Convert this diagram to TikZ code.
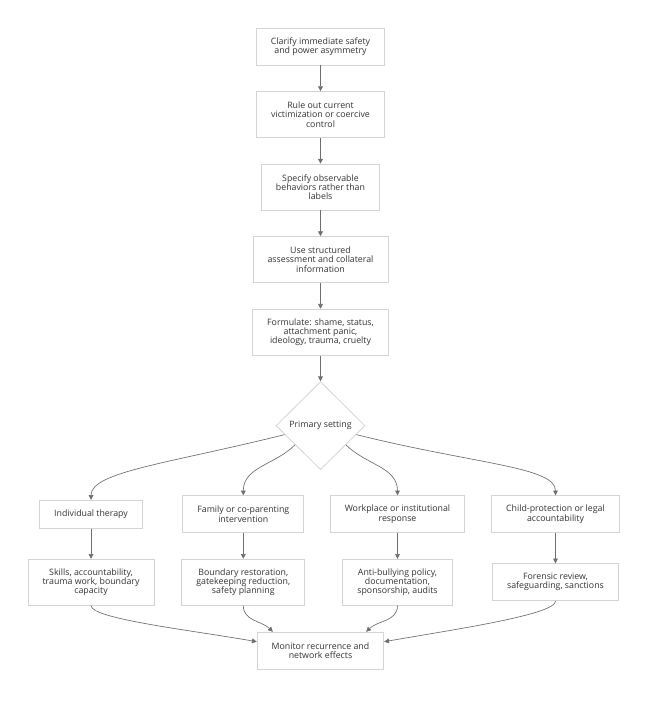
\documentclass[tikz,border=0pt]{standalone}
\usepackage{fontspec}
\setmainfont{Open Sans}
\usetikzlibrary{arrows.meta,positioning,shapes.geometric}
\definecolor{boxLine}{HTML}{D4D4D4}
\definecolor{edgeLine}{HTML}{6E6E6E}
\definecolor{labelText}{HTML}{333333}
\tikzset{
    stepBox/.style={
        draw=boxLine,
        line width=0.6pt,
        fill=white,
        align=center,
        inner xsep=10.9pt,
        inner ysep=6.85pt,
        minimum height=27.75pt,
        text=labelText,
        font=\fontsize{6.6}{6.9}\selectfont
    },
    tallBox/.style={
        stepBox,
        minimum height=34.5pt
    },
    settingDiamond/.style={
        diamond,
        draw=boxLine,
        line width=0.6pt,
        fill=white,
        inner sep=0pt,
        minimum width=66.75pt,
        minimum height=66pt,
        text=labelText,
        font=\fontsize{6.6}{6.9}\selectfont
    },
    flowArrow/.style={
        -{Triangle[length=3.6pt,width=3.6pt]},
        draw=edgeLine,
        line width=0.5pt
    }
}

\begin{document}
\begin{tikzpicture}[node distance=19.3pt]
    \useasboundingbox (-240.375pt,34.875pt) rectangle (245.625pt,-497.625pt);

    \node[stepBox] (clar) at (0,0) {Clarify immediate safety\\and power asymmetry};
    \node[tallBox,below=of clar] (rule) {Rule out current\\victimization or coercive\\control};
    \node[tallBox,below=of rule] (spec) {Specify observable\\behaviors rather than\\labels};
    \node[tallBox,below=of spec] (use) {Use structured\\assessment and collateral\\information};
    \node[tallBox,below=of use] (form) {Formulate: shame, status,\\attachment panic,\\ideology, trauma, cruelty};
    \node[settingDiamond,below=of form] (dia) {Primary setting};

    \node[stepBox,minimum height=21pt,below left=66.4pt and 172.1pt of dia.center,anchor=center] (ind) {Individual therapy};
    \node[stepBox,below left=66.4pt and 57.9pt of dia.center,anchor=center] (fam) {Family or co-parenting\\intervention};
    \node[stepBox,below right=66.4pt and 57.75pt of dia.center,anchor=center] (work) {Workplace or institutional\\response};
    \node[stepBox,below right=66.4pt and 176.25pt of dia.center,anchor=center] (child) {Child-protection or legal\\accountability};

    \node[tallBox,below=51pt of ind.center,anchor=center] (ski) {Skills, accountability,\\trauma work, boundary\\capacity};
    \node[tallBox,below=51pt of fam.center,anchor=center] (bou) {Boundary restoration,\\gatekeeping reduction,\\safety planning};
    \node[tallBox,below=51pt of work.center,anchor=center] (anti) {Anti-bullying policy,\\documentation,\\sponsorship, audits};
    \node[stepBox,below=51pt of child.center,anchor=center] (forn) {Forensic review,\\safeguarding, sanctions};

    \node[stepBox,below=168.75pt of dia.center,anchor=center] (mon) {Monitor recurrence and\\network effects};

    \draw[flowArrow] (clar) -- (rule);
    \draw[flowArrow] (rule) -- (spec);
    \draw[flowArrow] (spec) -- (use);
    \draw[flowArrow] (use) -- (form);
    \draw[flowArrow] (form) -- (dia);

    \draw[flowArrow] (dia.194) to[out=194,in=90,out looseness=1.5,in looseness=0.35] (ind.north);
    \draw[flowArrow] (dia.217) to[out=225,in=90] (fam.north);
    \draw[flowArrow] (dia.323) to[out=-45,in=90] (work.north);
    \draw[flowArrow] (dia.346) to[out=-14,in=90,out looseness=1.5,in looseness=0.35] (child.north);

    \draw[flowArrow] (ind) -- (ski);
    \draw[flowArrow] (fam) -- (bou);
    \draw[flowArrow] (work) -- (anti);
    \draw[flowArrow] (child) -- (forn);

    \draw[flowArrow] (ski.south) to[out=-90,in=170,out looseness=0.2] (mon.172);
    \draw[flowArrow] (bou.south) to[out=-90,in=135] ([xshift=12pt]mon.north west);
    \draw[flowArrow] (anti.south) to[out=-90,in=45] ([xshift=-13.5pt]mon.north east);
    \draw[flowArrow] (forn.south) to[out=-90,in=10,out looseness=0.2] (mon.8);
\end{tikzpicture}
\end{document}
